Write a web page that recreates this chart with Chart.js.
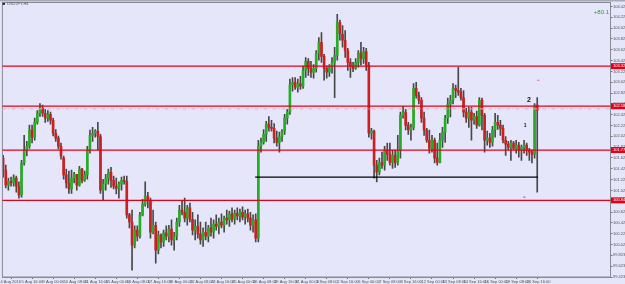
<!DOCTYPE html>
<html>
<head>
<meta charset="utf-8">
<script src="https://cdn.jsdelivr.net/npm/chart.js@4.4.1/dist/chart.umd.min.js"></script>
<style>
  html, body { margin: 0; padding: 0; background: #e6e6fa; }
  #wrap { width: 625px; height: 284px; }
</style>
</head>
<body>
<div id="wrap"><canvas id="chart" width="625" height="284"></canvas></div>
<script>
// USDJPY H4, bars counted from 4 Aug 2016 00:00 (6 bars a day); first visible bar is #3
const firstBar = 3;

const open = [
  101.62,101.40,101.12,101.19,101.16,101.25,101.10,100.94,101.53,101.77,101.84,102.14,102.01,102.28,102.45,102.54,102.45,102.36,102.43,102.32,
  102.08,101.99,101.84,101.62,101.31,101.16,101.05,101.25,101.32,101.12,101.42,101.21,101.31,101.77,102.04,102.08,102.12,102.02,101.03,101.14,
  101.25,101.36,101.21,101.10,101.06,101.14,101.21,101.19,100.57,100.44,100.01,100.29,100.18,100.57,100.77,100.92,100.84,100.25,100.38,99.92,
  100.20,100.07,100.24,100.18,100.31,100.11,100.18,100.44,100.66,100.62,100.51,100.70,100.49,100.29,100.36,100.22,100.11,100.25,100.18,100.33,
  100.25,100.40,100.36,100.44,100.38,100.51,100.48,100.59,100.49,100.60,100.55,100.62,100.53,100.59,100.51,100.38,100.48,100.14,101.84,101.91,
  102.06,102.25,102.19,102.17,101.99,101.91,102.02,102.12,102.36,102.47,102.98,103.02,102.93,103.00,102.95,103.24,103.41,103.28,103.21,103.28,
  103.56,103.76,103.50,103.28,103.21,103.30,103.39,103.52,104.13,103.91,103.80,103.61,103.39,103.32,103.28,103.39,103.56,103.46,103.59,103.34,
  102.08,102.12,101.49,101.36,101.54,101.49,101.77,101.69,101.54,101.67,101.53,101.77,102.41,102.47,102.23,102.14,102.19,102.91,102.78,102.69,
  102.36,102.14,101.95,101.80,101.95,101.62,101.54,101.95,102.10,102.36,102.62,102.69,102.91,102.87,102.84,102.74,102.47,102.36,102.47,102.32,
  102.39,102.23,102.69,102.41,101.95,101.99,101.91,102.14,102.28,102.23,102.17,101.95,101.88,101.82,101.90,101.80,101.86,101.77,101.82,101.86,
  101.77,101.73,101.69,102.60
];
const high = [
  101.67,101.49,101.25,101.27,101.31,101.29,101.18,101.58,102.04,101.93,102.23,102.23,102.36,102.50,102.63,102.60,102.52,102.50,102.47,102.36,
  102.15,102.03,101.90,101.66,101.42,101.38,101.40,101.36,101.32,101.47,101.43,101.38,101.84,102.14,102.19,102.15,102.28,102.06,101.23,101.32,
  101.42,101.45,101.29,101.25,101.18,101.27,101.29,101.29,100.60,100.66,100.37,100.37,100.62,100.86,101.18,100.99,100.88,100.66,100.44,100.27,
  100.22,100.29,100.37,100.38,100.48,100.25,100.51,100.75,100.84,100.88,100.75,100.79,100.62,100.48,100.57,100.44,100.33,100.44,100.38,100.51,
  100.48,100.57,100.51,100.59,100.55,100.66,100.64,100.70,100.66,100.70,100.68,100.72,100.66,100.68,100.62,100.57,100.59,101.95,101.99,102.15,
  102.30,102.39,102.32,102.26,102.12,102.10,102.15,102.43,102.52,103.08,103.11,103.11,103.08,103.13,103.32,103.48,103.46,103.41,103.35,103.61,
  103.85,103.94,103.54,103.32,103.35,103.48,103.67,104.28,104.17,104.07,103.98,103.65,103.46,103.39,103.46,103.61,103.76,103.67,103.65,103.39,
  102.17,102.14,101.58,101.62,101.73,101.84,101.90,101.90,101.77,101.77,102.04,102.47,102.58,102.52,102.28,102.25,103.00,103.02,102.84,102.74,
  102.47,102.17,102.14,102.04,101.99,101.90,102.08,102.19,102.41,102.73,102.78,103.00,102.97,103.30,102.91,102.87,102.54,102.56,102.56,102.45,
  102.49,102.74,102.73,102.45,102.12,102.08,102.21,102.45,102.41,102.32,102.23,102.02,101.93,101.95,101.93,101.95,101.91,101.86,101.95,101.90,
  101.80,101.77,102.63,102.74
];
const low = [
  101.27,101.07,101.03,101.10,101.10,100.99,100.88,100.90,101.49,101.66,101.80,101.90,101.95,102.25,102.39,102.39,102.28,102.30,102.25,102.03,
  101.93,101.79,101.60,101.23,101.07,100.97,100.97,101.16,101.03,101.10,101.16,101.19,101.23,101.71,101.93,102.01,101.77,100.97,100.84,101.03,
  101.14,101.08,101.05,100.96,100.88,101.03,101.14,100.51,100.33,99.55,99.96,100.09,100.14,100.55,100.73,100.70,100.14,100.22,99.68,99.85,
  99.96,99.99,100.11,100.07,100.01,99.92,100.11,100.36,100.57,100.44,100.38,100.44,100.20,100.11,100.14,100.03,99.99,100.11,100.07,100.18,
  100.14,100.29,100.22,100.33,100.25,100.40,100.36,100.44,100.40,100.48,100.44,100.48,100.40,100.44,100.29,100.25,100.07,100.07,101.73,101.88,
  101.93,102.12,102.12,101.90,101.84,101.73,101.93,102.06,102.25,102.43,102.86,102.89,102.84,102.89,102.91,103.11,103.15,103.11,103.10,103.21,
  103.43,103.39,103.06,103.10,103.13,103.19,102.74,103.43,103.80,103.67,103.48,103.24,103.11,103.22,103.26,103.30,103.34,103.37,103.24,102.01,
  101.97,101.25,101.18,101.31,101.43,101.40,101.58,101.49,101.43,101.45,101.49,101.62,102.36,102.14,102.06,101.95,102.14,102.73,102.62,102.28,
  102.04,101.91,101.71,101.73,101.53,101.49,101.53,101.82,101.91,102.26,102.38,102.62,102.74,102.78,102.69,102.38,102.28,102.19,101.95,102.25,
  102.17,102.21,102.14,101.73,101.86,101.82,101.84,102.01,102.15,102.04,101.90,101.67,101.77,101.58,101.77,101.71,101.64,101.58,101.71,101.67,
  101.58,101.53,101.62,100.99
];
const close = [
  101.40,101.12,101.19,101.16,101.25,101.10,100.94,101.53,101.77,101.84,102.14,102.01,102.28,102.45,102.54,102.45,102.36,102.43,102.32,102.08,
  101.99,101.84,101.66,101.31,101.16,101.05,101.25,101.32,101.12,101.42,101.21,101.31,101.77,102.04,102.08,102.12,102.02,101.03,101.14,101.25,
  101.36,101.21,101.10,101.06,101.14,101.21,101.19,100.57,100.44,100.01,100.29,100.18,100.57,100.77,100.92,100.84,100.25,100.38,99.92,100.20,
  100.07,100.24,100.18,100.31,100.11,100.18,100.44,100.66,100.62,100.51,100.70,100.49,100.29,100.36,100.22,100.11,100.25,100.18,100.33,100.25,
  100.40,100.36,100.44,100.38,100.51,100.48,100.59,100.49,100.60,100.55,100.62,100.53,100.59,100.51,100.38,100.48,100.14,101.84,101.91,102.06,
  102.25,102.19,102.17,101.99,101.91,102.02,102.12,102.36,102.47,102.98,103.02,102.93,103.00,102.95,103.24,103.41,103.28,103.21,103.28,103.56,
  103.76,103.50,103.28,103.21,103.30,103.39,103.52,104.13,103.92,103.80,103.61,103.39,103.32,103.28,103.39,103.56,103.46,103.59,103.34,102.08,
  102.12,101.49,101.36,101.54,101.49,101.77,101.69,101.54,101.67,101.53,101.77,102.41,102.47,102.23,102.14,102.19,102.91,102.78,102.69,102.36,
  102.14,101.95,101.80,101.95,101.62,101.54,101.95,102.10,102.36,102.62,102.69,102.91,102.87,102.84,102.74,102.47,102.36,102.47,102.32,102.39,
  102.23,102.69,102.41,101.95,101.99,101.91,102.14,102.28,102.23,102.17,101.95,101.88,101.82,101.90,101.80,101.86,101.77,101.82,101.86,101.77,
  101.73,101.69,102.60,102.50
];

const priceTicks = [104.423,104.223,104.023,103.823,103.623,103.423,103.223,103.023,102.823,102.623,102.423,102.223,102.023,
  101.823,101.623,101.423,101.223,101.023,100.823,100.623,100.423,100.223,100.023,99.823,99.623,99.423];
const timeTickBars = [2,10,18,26,34,42,50,58,66,74,82,90,98,106,114,122,130,138,146,154,162,170,178,186,194,202];
const timeTicks = ['4 Aug 2016','5 Aug 16:00','9 Aug 00:00','10 Aug 08:00','11 Aug 16:00','15 Aug 00:00','16 Aug 08:00',
  '17 Aug 16:00','19 Aug 00:00','22 Aug 08:00','23 Aug 16:00','25 Aug 00:00','26 Aug 08:00','29 Aug 16:00','31 Aug 00:00',
  '1 Sep 08:00','2 Sep 16:00','6 Sep 00:00','7 Sep 08:00','8 Sep 16:00','12 Sep 00:00','13 Sep 08:00','14 Sep 16:00',
  '16 Sep 00:00','19 Sep 08:00','20 Sep 16:00'];

// drawn objects
const redLevels = [103.320, 102.580, 101.770, 100.840];
const dashLevel = 102.530;
const support = { price: 101.270, fromBar: 98.8, toBar: 206.3 };
const marks = [{ text: '2', bar: 202.9, price: 102.70, size: 7 }, { text: '1', bar: 201.4, price: 102.22, size: 5 }];
const askMark = { bar: 206.3, price: 103.06 }, bidMark = { bar: 201, price: 100.90 };

const bull = '#26ad26', bear = '#cc2020', wickCol = '#484848';
const bodies = [], wicks = [], bodyCols = [];
open.forEach((o, k) => {
  const b = firstBar + k;
  bodies.push({ x: b, y: [o, close[k]] });
  wicks.push({ x: b, y: [low[k], high[k]] });
  bodyCols.push(close[k] >= o ? bull : bear);
});

const tinyFont = { family: 'Liberation Sans', size: 4, lineHeight: 1 };

const overlay = {
  id: 'overlay',
  beforeDraw(chart) {
    const c = chart.ctx;
    c.save();
    c.fillStyle = '#e6e6fa';
    c.fillRect(0, 0, chart.width, chart.height);
    c.fillStyle = '#a8a8b6';
    c.fillRect(0, 0, chart.width, 1.5);
    c.restore();
  },
  afterDatasetsDraw(chart) {
    const c = chart.ctx, a = chart.chartArea, x = chart.scales.x, y = chart.scales.y;
    c.save();
    // frame
    c.strokeStyle = '#8a8a96';
    c.lineWidth = 1;
    c.strokeRect(a.left, a.top, a.right - a.left, a.bottom - a.top);
    // dashed pink level
    c.strokeStyle = '#f2a6b4';
    c.setLineDash([4, 2, 1, 2]);
    c.beginPath();
    c.moveTo(a.left, y.getPixelForValue(dashLevel));
    c.lineTo(a.right, y.getPixelForValue(dashLevel));
    c.stroke();
    c.setLineDash([]);
    // red levels
    c.strokeStyle = '#e3001b';
    c.lineWidth = 1.3;
    redLevels.forEach(p => {
      const py = y.getPixelForValue(p);
      c.beginPath(); c.moveTo(a.left, py); c.lineTo(a.right, py); c.stroke();
    });
    // black support line
    c.strokeStyle = '#000';
    c.lineWidth = 1.2;
    const sy = y.getPixelForValue(support.price);
    c.beginPath();
    c.moveTo(x.getPixelForValue(support.fromBar), sy);
    c.lineTo(x.getPixelForValue(support.toBar), sy);
    c.stroke();
    // small ask / bid dashes
    c.lineWidth = 1;
    c.strokeStyle = '#f07080';
    c.beginPath();
    c.moveTo(x.getPixelForValue(askMark.bar) - 1, y.getPixelForValue(askMark.price));
    c.lineTo(x.getPixelForValue(askMark.bar) + 1.5, y.getPixelForValue(askMark.price));
    c.stroke();
    c.strokeStyle = '#7070e0';
    c.beginPath();
    c.moveTo(x.getPixelForValue(bidMark.bar) - 1, y.getPixelForValue(bidMark.price));
    c.lineTo(x.getPixelForValue(bidMark.bar) + 1.5, y.getPixelForValue(bidMark.price));
    c.stroke();
    // numbers near the last bars
    c.fillStyle = '#111';
    c.textAlign = 'center';
    c.textBaseline = 'middle';
    marks.forEach(m => {
      c.font = 'bold ' + m.size + 'px "Liberation Sans"';
      c.fillText(m.text, x.getPixelForValue(m.bar), y.getPixelForValue(m.price));
    });
    // price boxes for the red levels
    c.font = '4px "Liberation Sans"';
    c.textAlign = 'left';
    redLevels.forEach(p => {
      const py = y.getPixelForValue(p);
      c.fillStyle = '#e3001b';
      c.fillRect(a.right + 0.5, py - 3, chart.width - a.right, 6);
      c.fillStyle = '#ffffff';
      c.fillText(p.toFixed(3), a.right + 2.5, py);
    });
    // header texts
    c.fillStyle = '#222';
    c.fillRect(2.5, 3, 2.5, 1.8);
    c.fillStyle = '#555';
    c.textBaseline = 'middle';
    c.fillText('USDJPY,H4', 7, 4);
    c.fillStyle = '#2f9a2f';
    c.font = '6px "Liberation Sans"';
    c.textAlign = 'right';
    c.fillText('+80.1', a.right - 1.5, 12.5);
    c.restore();
  }
};

new Chart(document.getElementById('chart'), {
  type: 'bar',
  data: {
    datasets: [
      { label: 'wick', data: wicks, backgroundColor: wickCol, barThickness: 1, grouped: false, order: 2 },
      { label: 'body', data: bodies, backgroundColor: bodyCols, barThickness: 2, grouped: false, order: 1, minBarLength: 1 }
    ]
  },
  options: {
    responsive: false,
    animation: false,
    devicePixelRatio: 1,
    layout: { padding: { left: 1.5, top: 2, right: 0, bottom: 0 } },
    plugins: { legend: { display: false }, tooltip: { enabled: false } },
    scales: {
      x: {
        type: 'linear',
        min: 2.73,
        max: 233.85,
        offset: false,
        afterBuildTicks: s => { s.ticks = timeTickBars.map(v => ({ value: v })); },
        afterFit: s => { s.height = 7; },
        ticks: {
          autoSkip: false, maxRotation: 0, align: 'start', padding: 0.5,
          color: '#555', font: tinyFont,
          callback: v => timeTicks[timeTickBars.indexOf(v)]
        },
        grid: { drawOnChartArea: false, tickLength: 2, color: '#707070' },
        border: { display: true, color: '#8a8a96' }
      },
      y: {
        position: 'right',
        min: 99.423,
        max: 104.497,
        afterBuildTicks: s => { s.ticks = priceTicks.map(v => ({ value: v })); },
        afterFit: s => { s.width = 14.5; },
        ticks: {
          padding: 0.5, color: '#555', font: tinyFont,
          callback: v => v.toFixed(3)
        },
        grid: { drawOnChartArea: false, tickLength: 2, color: '#707070' },
        border: { display: true, color: '#8a8a96' }
      }
    }
  },
  plugins: [overlay]
});
</script>
</body>
</html>
